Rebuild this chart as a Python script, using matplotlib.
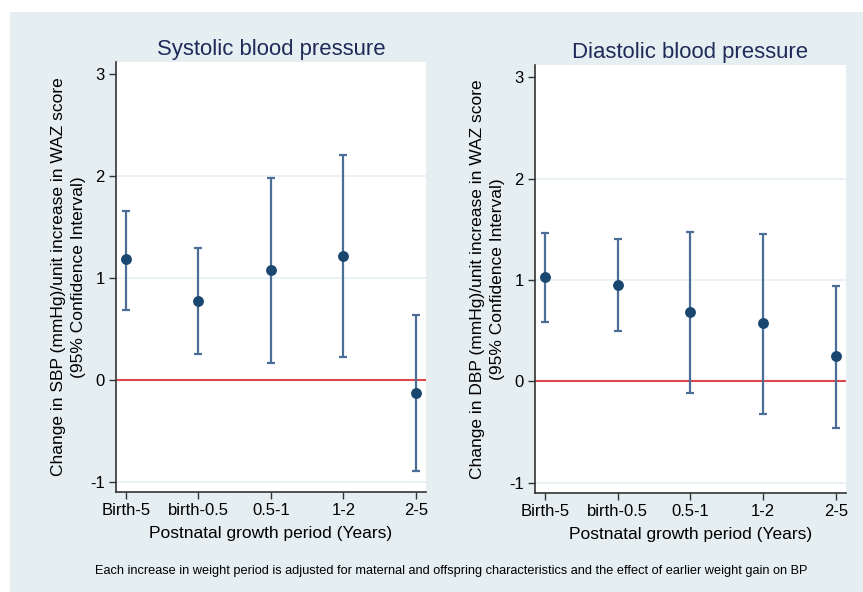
import numpy as np
import matplotlib
matplotlib.use("Agg")
import matplotlib.pyplot as plt
from matplotlib.patches import Rectangle

plt.rcParams['font.family'] = ['Liberation Sans', 'DejaVu Sans']

periods = ['Birth-5', 'birth-0.5', '0.5-1', '1-2', '2-5']

sbp_est = [1.19, 0.77, 1.08, 1.22, -0.13]
sbp_low = [0.69, 0.25, 0.17, 0.22, -0.89]
sbp_high = [1.66, 1.29, 1.98, 2.21, 0.64]

dbp_est = [1.03, 0.95, 0.68, 0.58, 0.25]
dbp_low = [0.59, 0.50, -0.11, -0.32, -0.46]
dbp_high = [1.46, 1.40, 1.47, 1.45, 0.94]

BG = '#e5eff2'
POINT = '#1a476f'
BAR = '#4b6e96'
RED = '#e0474c'
GRID = '#e8f0f3'


def panel(ax, title, est, low, high, ylabel):
    x = np.arange(1, len(periods) + 1)
    est = np.array(est)
    err = [est - np.array(low), np.array(high) - est]
    ax.errorbar(x, est, yerr=err, fmt='none', ecolor=BAR, elinewidth=1.6,
                capsize=3, capthick=1.6, zorder=3)
    ax.plot(x, est, 'o', color=POINT, markersize=6.8, zorder=4)
    ax.axhline(0, color=RED, lw=1.5, zorder=2)
    for g in [-1, 1, 2]:
        ax.axhline(g, color=GRID, lw=1.2, zorder=1)

    ax.set_xlim(0.862, 5.138)
    ax.set_ylim(-1.1, 3.12)
    ax.set_xticks(x)
    ax.set_xticklabels(periods, fontsize=12)
    ax.set_yticks([-1, 0, 1, 2, 3])
    ax.set_yticklabels(['-1', '0', '1', '2', '3'], fontsize=12)
    ax.tick_params(axis='both', direction='out', length=5, width=1, color='#333333', pad=3)

    for s in ['top', 'right']:
        ax.spines[s].set_visible(False)
    for s in ['left', 'bottom']:
        ax.spines[s].set_color('#333333')
        ax.spines[s].set_linewidth(1.2)

    ax.set_title(title, fontsize=15.9, color='#1f2a5a', pad=5)
    ax.set_xlabel('Postnatal growth period (Years)', fontsize=12.5, labelpad=6)
    ax.set_ylabel(ylabel, fontsize=12.5, labelpad=3, linespacing=1.45)


fig = plt.figure(figsize=(8.63, 5.92), dpi=100, facecolor='white')
fig.patches.append(Rectangle((10 / 863, 0), 1, 1 - 12 / 592, transform=fig.transFigure,
                             facecolor=BG, edgecolor='none', zorder=-5))

ax1 = fig.add_axes([0.1344, 0.1689, 0.3592, 0.7264])
ax2 = fig.add_axes([0.6199, 0.1672, 0.3604, 0.7230])

panel(ax1, 'Systolic blood pressure', sbp_est, sbp_low, sbp_high,
      'Change in SBP (mmHg)/unit increase in WAZ score\n(95% Confidence Interval)')
panel(ax2, 'Diastolic blood pressure', dbp_est, dbp_low, dbp_high,
      'Change in DBP (mmHg)/unit increase in WAZ score\n(95% Confidence Interval)')

fig.text(0.523, 1 - 571 / 592,
         'Each increase in weight period is adjusted for maternal and offspring characteristics '
         'and the effect of earlier weight gain on BP', ha='center', va='center', fontsize=9.2)

plt.savefig('out.png', dpi=100)
plt.close()
